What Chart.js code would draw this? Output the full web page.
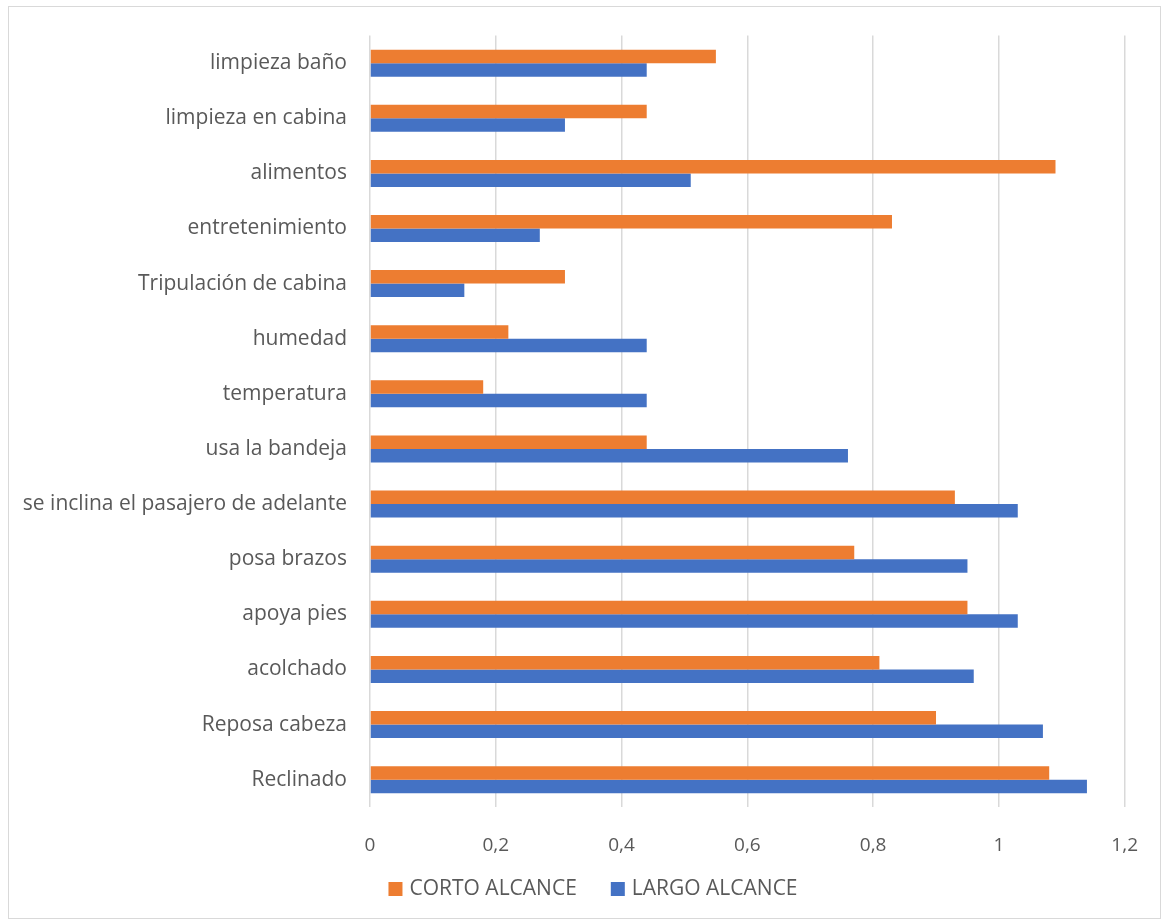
<!DOCTYPE html>
<html>
<head>
<meta charset="utf-8">
<script src="https://cdn.jsdelivr.net/npm/chart.js@4.4.1/dist/chart.umd.min.js"></script>
<style>
  html, body { margin: 0; padding: 0; background: #fff; }
  #frame { position: absolute; left: 8px; top: 6px; width: 1151px; height: 911px; border: 1px solid #d9d9d9; }
  #wrap { position: absolute; left: 0; top: 0; width: 1165px; height: 924px; }
</style>
</head>
<body>
<div id="frame"></div>
<div id="wrap"><canvas id="chart" width="1165" height="924"></canvas></div>
<script>
const categories = [
  'limpieza baño',
  'limpieza en cabina',
  'alimentos',
  'entretenimiento',
  'Tripulación de cabina',
  'humedad',
  'temperatura',
  'usa la bandeja',
  'se inclina el pasajero de adelante',
  'posa brazos',
  'apoya pies',
  'acolchado',
  'Reposa cabeza',
  'Reclinado'
];
const cortoAlcance = [0.55, 0.44, 1.09, 0.83, 0.31, 0.22, 0.18, 0.44, 0.93, 0.77, 0.95, 0.81, 0.90, 1.08];
const largoAlcance = [0.44, 0.31, 0.51, 0.27, 0.15, 0.44, 0.44, 0.76, 1.03, 0.95, 1.03, 0.96, 1.07, 1.14];
const xTicks = [0, 0.2, 0.4, 0.6, 0.8, 1, 1.2];

const fontFamily = '"Open Sans", Lato, sans-serif';

// legend drawn like Excel: small square, short gap, wide space between items
const bottomLegend = {
  id: 'bottomLegend',
  afterDraw(chart) {
    const c = chart.ctx;
    c.save();
    c.font = '21px ' + fontFamily;
    c.textBaseline = 'middle';
    const box = 14, textGap = 7, itemGap = 34;
    const items = chart.data.datasets.map(ds => ({
      text: ds.label,
      color: ds.backgroundColor,
      w: c.measureText(ds.label).width
    }));
    const total = items.reduce((s, it) => s + box + textGap + it.w, 0) + itemGap * (items.length - 1);
    let x = 593 - total / 2;
    const y = 889;
    items.forEach(it => {
      c.fillStyle = it.color;
      c.fillRect(x, y - box / 2, box, box);
      c.fillStyle = '#595959';
      c.fillText(it.text, x + box + textGap, y);
      x += box + textGap + it.w + itemGap;
    });
    c.restore();
  }
};

const ctx = document.getElementById('chart').getContext('2d');
new Chart(ctx, {
  type: 'bar',
  data: {
    labels: categories,
    datasets: [{
      label: 'CORTO ALCANCE',
      data: cortoAlcance,
      backgroundColor: '#ED7D31',
      borderWidth: 0
    }, {
      label: 'LARGO ALCANCE',
      data: largoAlcance,
      backgroundColor: '#4472C4',
      borderWidth: 0
    }]
  },
  plugins: [bottomLegend],
  options: {
    indexAxis: 'y',
    responsive: false,
    animation: false,
    datasets: {
      bar: {
        categoryPercentage: 0.49,
        barPercentage: 1
      }
    },
    layout: {
      padding: { top: 35, right: 38, bottom: 55, left: 0 }
    },
    scales: {
      x: {
        min: 0,
        max: 1.2,
        afterBuildTicks: (scale) => {
          scale.ticks = xTicks.map(v => ({ value: v }));
        },
        afterFit: (scale) => { scale.height -= 15; },
        ticks: {
          padding: 27,
          color: '#595959',
          font: { family: fontFamily, size: 19 },
          callback: (v) => String(v).replace('.', ',')
        },
        grid: {
          color: '#d9d9d9',
          lineWidth: 1.5,
          drawTicks: false
        },
        border: { display: false }
      },
      y: {
        afterFit: (scale) => { scale.width = 370; },
        ticks: {
          padding: 23,
          color: '#595959',
          font: { family: fontFamily, size: 21 }
        },
        grid: { display: false, drawTicks: false },
        border: { display: false }
      }
    },
    plugins: {
      legend: { display: false },
      tooltip: { enabled: false }
    }
  }
});
</script>
</body>
</html>
